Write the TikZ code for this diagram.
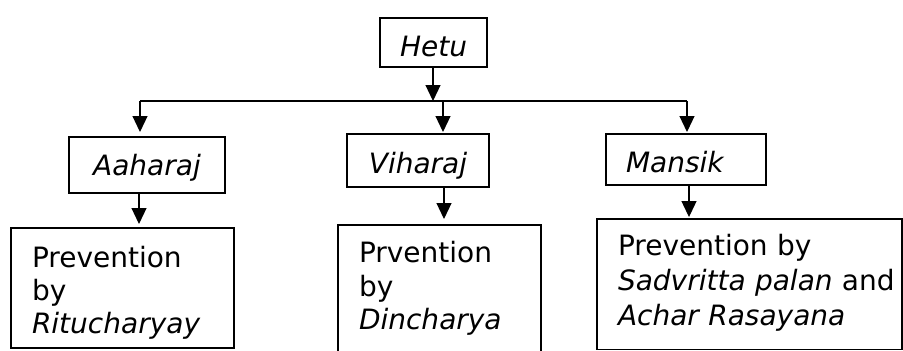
\documentclass[tikz,border=0pt]{standalone}
\usepackage{fontspec}
\setmainfont{DejaVu Sans}
\usetikzlibrary{arrows.meta}
\begin{document}
\begin{tikzpicture}[x=1pt,y=-1pt,
  box/.style={draw,line width=1.3pt,inner sep=0pt,outer sep=0pt,text depth=0pt,font=\fontsize{28}{33}\selectfont},
  conn/.style={line width=1.2pt},
  arr/.style={line width=1.2pt,-{Triangle[length=16pt,width=15pt]},shorten >=3pt}]
\useasboundingbox (0,0) rectangle (903,351);
% top
\node[box,minimum width=107pt,minimum height=49pt,text height=28pt] (hetu) at (433.5,42.5) {\itshape Hetu};
% middle
\node[box,minimum width=156pt,minimum height=56pt,text height=20pt] (aahar) at (147,165) {\itshape Aaharaj};
\node[box,minimum width=142pt,minimum height=53pt,text height=25.6pt] (vihar) at (418,160.5) {\itshape Viharaj};
\node[box,minimum width=160pt,minimum height=51pt,text height=26.4pt,text width=120pt,align=left] (mansik) at (686,159.5) {\itshape Mansik};
% bottom
\node[box,minimum width=223pt,minimum height=120pt,text width=181pt,align=left,text height=20pt,text depth=62pt] (p1) at (122.5,288) {Prevention\\by\\\textit{Ritucharyay}};
\node[box,minimum width=203pt,minimum height=140pt,text width=161pt,align=left,text height=20pt,text depth=84.6pt,font=\fontsize{28}{33.5}\selectfont] (p2) at (439.5,295) {Prvention\\by\\\textit{Dincharya}};
\node[box,minimum width=305pt,minimum height=130.3pt,text width=263pt,align=left,text height=20pt,text depth=78pt,font=\fontsize{28}{35}\selectfont] (p3) at (749.5,284.2) {\mbox{Prevention by}\\\mbox{\textit{Sadvritta palan} and}\\\mbox{\textit{Achar Rasayana}}};
% junction line
\coordinate (j) at (433,101);
\coordinate (l) at (140,101);
\coordinate (v) at (443,101);
\coordinate (r) at (687,101);
\draw[arr,shorten >=0pt] (hetu.south -| j) -- (j);
\draw[conn] (l) -- (r);
\draw[arr,shorten >=5pt] (l) -- (l |- aahar.north);
\draw[arr,shorten >=2pt] (v) -- (v |- vihar.north);
\draw[arr,shorten >=2pt] (r) -- (r |- mansik.north);
% lower arrows
\draw[arr,shorten >=4pt] ([xshift=-8pt]aahar.south) -- ([xshift=-8pt]aahar.south |- p1.north);
\draw[arr,shorten >=6pt] ([xshift=26pt]vihar.south) -- ([xshift=26pt]vihar.south |- p2.north);
\draw[arr,shorten >=2pt] ([xshift=3pt]mansik.south) -- ([xshift=3pt]mansik.south |- p3.north);
\end{tikzpicture}
\end{document}
